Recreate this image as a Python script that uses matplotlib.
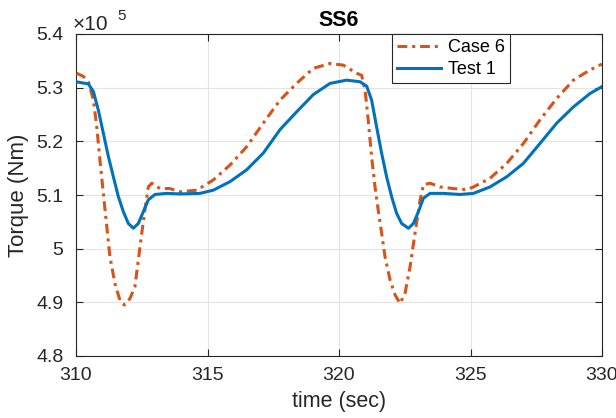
import matplotlib
matplotlib.use("Agg")
import matplotlib.pyplot as plt

plt.rcParams['font.family'] = ['Liberation Sans', 'DejaVu Sans']

# Values in units of 1e5 Nm
t_test = [310.0, 310.47, 310.66, 310.85, 311.04, 311.23, 311.42, 311.61, 311.8, 311.99, 312.18,
          312.37, 312.56, 312.75, 313.0, 313.45, 313.95, 314.71, 315.22, 315.86, 316.49, 317.12,
          317.76, 318.39, 319.02, 319.66, 320.29, 320.8, 321.05, 321.24, 321.43, 321.62, 321.81,
          322.0, 322.19, 322.38, 322.64, 322.83, 323.02, 323.21, 323.46, 323.97, 324.6, 325.11,
          325.74, 326.38, 327.01, 327.64, 328.28, 328.91, 329.54, 330.0]
v_test = [5.311, 5.307, 5.293, 5.258, 5.215, 5.172, 5.134, 5.097, 5.069, 5.047, 5.038,
          5.047, 5.069, 5.091, 5.101, 5.103, 5.102, 5.103, 5.109, 5.125, 5.147, 5.178,
          5.222, 5.255, 5.287, 5.308, 5.314, 5.311, 5.303, 5.277, 5.227, 5.178, 5.134,
          5.097, 5.066, 5.047, 5.038, 5.047, 5.069, 5.094, 5.103, 5.103, 5.101, 5.103,
          5.115, 5.134, 5.159, 5.196, 5.234, 5.264, 5.289, 5.302]

t_case = [310.02, 310.28, 310.47, 310.66, 310.79, 310.91, 311.04, 311.17, 311.29, 311.48, 311.67,
          311.84, 312.05, 312.24, 312.37, 312.5, 312.62, 312.75, 312.88, 313.19, 313.57, 313.95,
          314.59, 315.22, 315.86, 316.49, 317.12, 317.76, 318.39, 319.02, 319.66, 320.16, 320.67,
          320.86, 320.99, 321.11, 321.24, 321.37, 321.49, 321.62, 321.75, 321.94, 322.13, 322.32,
          322.51, 322.7, 322.89, 323.08, 323.21, 323.46, 323.84, 324.35, 324.86, 325.11, 325.74,
          326.38, 327.01, 327.64, 328.28, 328.91, 329.54, 330.0]
v_case = [5.327, 5.321, 5.311, 5.277, 5.227, 5.165, 5.103, 5.041, 4.985, 4.935, 4.904,
          4.895, 4.907, 4.929, 4.979, 5.029, 5.072, 5.115, 5.122, 5.112, 5.112, 5.106,
          5.109, 5.128, 5.156, 5.190, 5.234, 5.277, 5.308, 5.336, 5.345, 5.342, 5.327,
          5.323, 5.296, 5.240, 5.171, 5.115, 5.072, 5.029, 4.985, 4.942, 4.914, 4.898,
          4.917, 4.966, 5.029, 5.090, 5.119, 5.122, 5.115, 5.112, 5.110, 5.115, 5.131,
          5.159, 5.196, 5.240, 5.280, 5.314, 5.333, 5.344]

x_ticks = [310, 315, 320, 325, 330]
y_ticks = [4.8, 4.9, 5.0, 5.1, 5.2, 5.3, 5.4]
y_tick_labels = ['4.8', '4.9', '5', '5.1', '5.2', '5.3', '5.4']

fig = plt.figure(figsize=(6.16, 4.18), dpi=100)
ax = fig.add_axes([76/616, 1-356/418, (602-76)/616, (356-34)/418])

ax.plot(t_case, v_case, color='#D95319', lw=2.2, ls=(0, (3.2, 1.6, 1.0, 1.6)), label='Case 6', zorder=3)
ax.plot(t_test, v_test, color='#0072BD', lw=2.2, ls='-', label='Test 1', zorder=4)

ax.set_xlim(310, 330)
ax.set_ylim(4.8, 5.4)
ax.set_xticks(x_ticks)
ax.set_yticks(y_ticks)
ax.set_yticklabels(y_tick_labels)
ax.grid(True, color='#e3e3e3', lw=0.8)
ax.set_axisbelow(True)
ax.tick_params(direction='in', labelsize=14, colors='#262626', length=5, top=True, right=True,
               labeltop=False, labelright=False)
ax.tick_params(axis='x', pad=8)
ax.tick_params(axis='y', pad=9)
for s in ax.spines.values():
    s.set_color('#262626')
    s.set_linewidth(0.8)

ax.set_xlabel('time (sec)', fontsize=15.5, color='#262626', labelpad=5)
ax.set_ylabel('Torque (Nm)', fontsize=16, color='#262626', labelpad=5)
ax.set_title('SS6', fontsize=15.5, fontweight='bold', pad=6)
ax.text(-3/526, 1 + 4/322, '\u00d710', transform=ax.transAxes, fontsize=15,
        color='#262626', ha='left', va='baseline')
ax.text(41/526, 1 + 14/322, '5', transform=ax.transAxes, fontsize=11,
        color='#262626', ha='left', va='baseline')

leg = ax.legend(loc='upper left', bbox_to_anchor=((392-76)/526, 1.0), fontsize=13,
                frameon=True, fancybox=False, edgecolor='#262626', framealpha=1,
                borderpad=0.3, handlelength=2.4, labelspacing=0.25, handletextpad=0.4,
                borderaxespad=0.0)
leg.get_frame().set_linewidth(0.8)

fig.savefig('out.png', dpi=100)
